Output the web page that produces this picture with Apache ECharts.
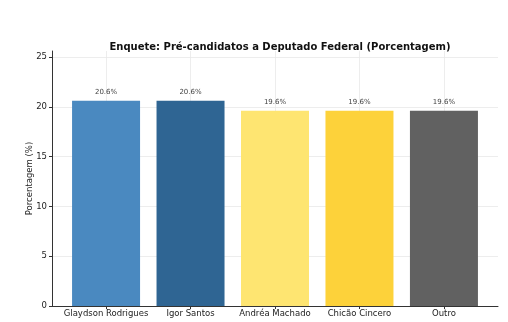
<!DOCTYPE html>
<html><head><meta charset="utf-8">
<script src="https://cdn.jsdelivr.net/npm/echarts@6/dist/echarts.min.js"></script>
<style>html,body{margin:0;padding:0;background:#fff}#c{width:508px;height:322px}</style>
</head><body><div id="c"></div>
<script>
var categories = ["Glaydson Rodrigues", "Igor Santos", "Andréa Machado", "Chicão Cincero", "Outro"];
var values = [20.6, 20.6, 19.6, 19.6, 19.6];
var colors = ["#4a89c0", "#2f6593", "#fee571", "#fdd23a", "#616161"];
var yTicks = [0, 5, 10, 15, 20, 25];

var chart = echarts.init(document.getElementById('c'));
var positions = categories.map(function (c, i) { return i; });
var font = 'DejaVu Sans';
chart.setOption({
  animation: false,
  title: {
    text: 'Enquete: Pré-candidatos a Deputado Federal (Porcentagem)',
    left: 275, top: 37, textAlign: 'center',
    textStyle: { fontFamily: font, fontSize: 10, fontWeight: 'bold', color: '#111' }
  },
  grid: { left: 52, right: 10, top: 51, bottom: 16 },
  xAxis: {
    type: 'value', min: -0.64, max: 4.64,
    axisLine: { show: true, onZero: false, lineStyle: { color: '#333', width: 1 } },
    axisTick: { show: true, customValues: positions, length: 3, lineStyle: { color: '#333' } },
    axisLabel: {
      customValues: positions, fontFamily: font, fontSize: 8.5, color: '#222', margin: 3,
      formatter: function (v) { return categories[Math.round(v)]; }
    },
    splitLine: { show: true, lineStyle: { color: '#e8e8e8', width: 0.8 } }
  },
  yAxis: {
    type: 'value', min: 0, max: 25.6,
    name: 'Porcentagem (%)', nameLocation: 'middle', nameGap: 18, nameMoveOverlap: false,
    nameTextStyle: { fontFamily: font, fontSize: 8.5, color: '#222' },
    axisLine: { show: true, onZero: false, lineStyle: { color: '#333', width: 1 } },
    axisTick: { show: true, customValues: yTicks, length: 3, lineStyle: { color: '#333' } },
    axisLabel: { customValues: yTicks, fontFamily: font, fontSize: 8.5, color: '#222', margin: 5 },
    splitLine: { show: true, lineStyle: { color: '#e8e8e8', width: 0.8 } }
  },
  series: [{
    type: 'bar',
    barWidth: 68,
    data: values.map(function (v, i) {
      return { value: [i, v], itemStyle: { color: colors[i] } };
    }),
    label: {
      show: true, position: 'top', distance: 5,
      fontFamily: font, fontSize: 7, color: '#444',
      formatter: function (p) { return p.value[1].toFixed(1) + '%'; }
    }
  }]
});
</script></body></html>
